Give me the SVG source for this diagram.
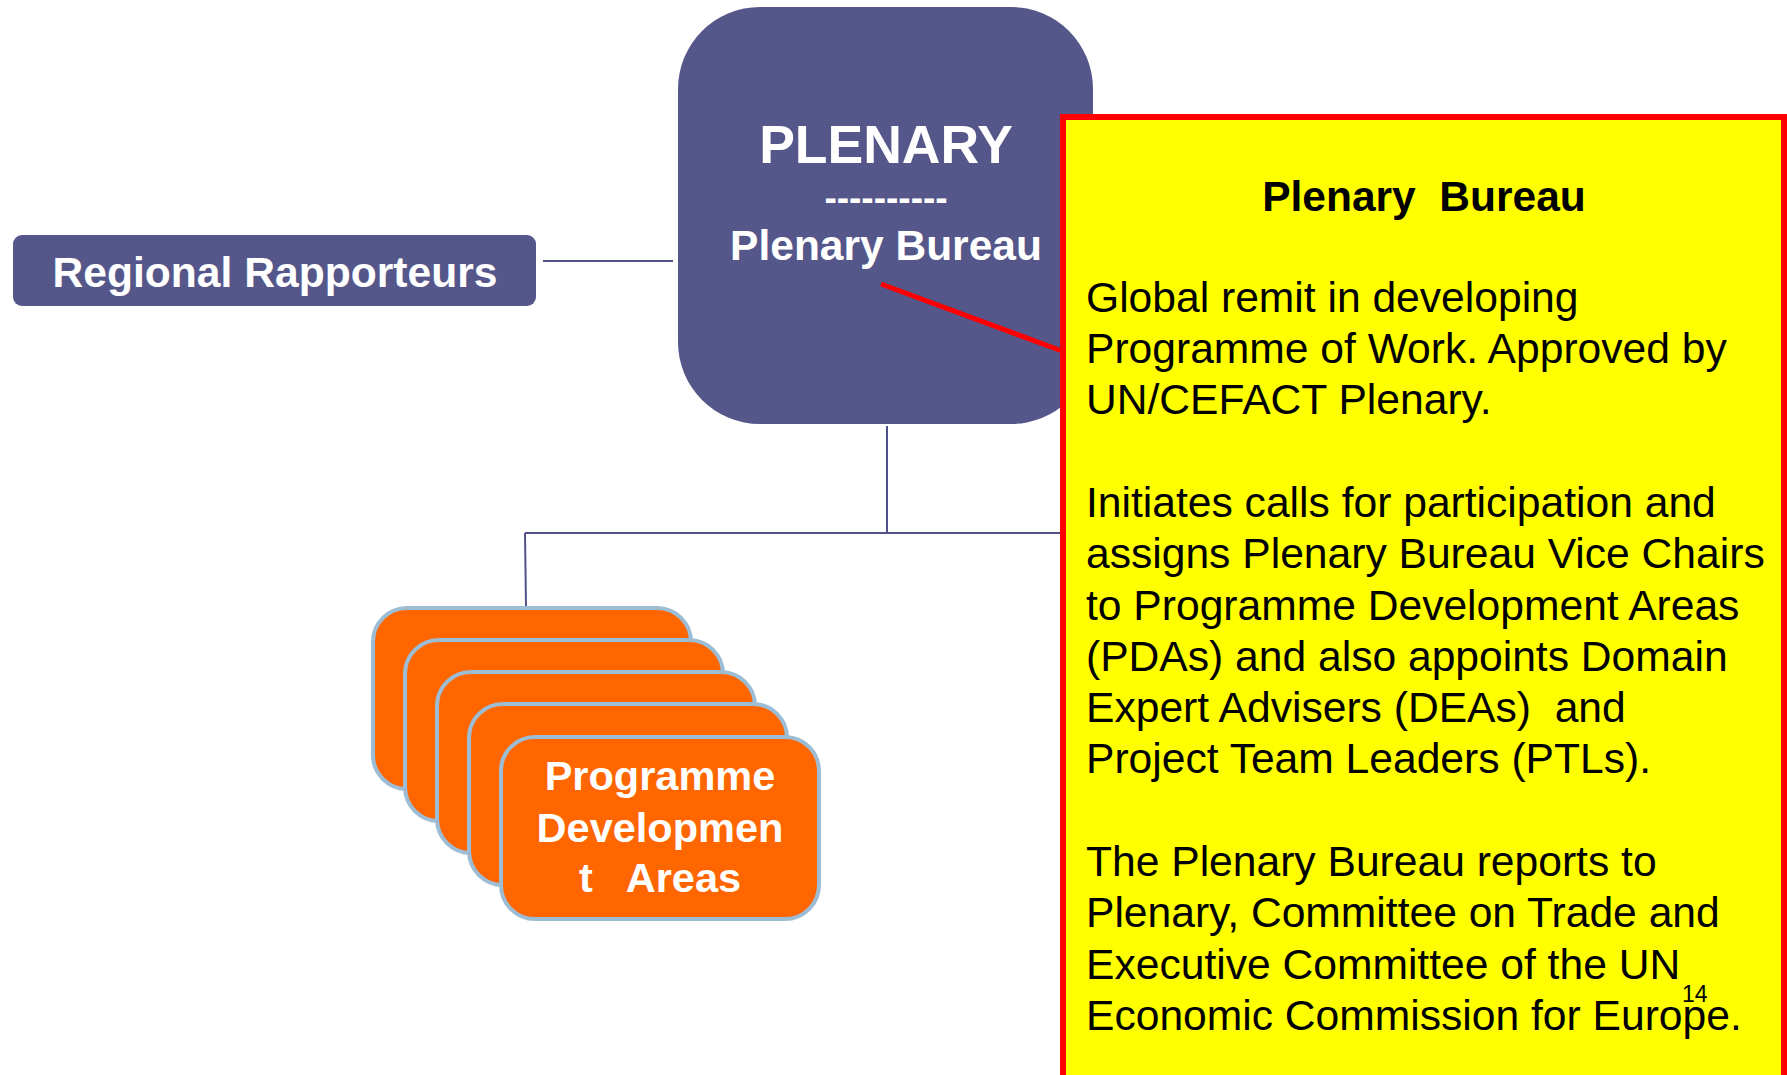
<svg xmlns="http://www.w3.org/2000/svg" width="1787" height="1075" viewBox="0 0 1787 1075">
<style>
.box{fill:#55578b}
.w{fill:#ffffff;font-family:"Liberation Sans",Arial,sans-serif;font-weight:bold}
.conn{stroke:#50508a;stroke-width:2;fill:none}
.card{fill:#ff6600;stroke:#9dbdd4;stroke-width:4}
.body{font-family:"Liberation Sans",Arial,sans-serif;font-size:42.6px;fill:#000000}
</style>
<rect width="1787" height="1075" fill="#ffffff"/>
<g id="connectors">
<line class="conn" x1="543" y1="261" x2="673" y2="261"/>
<line class="conn" x1="887" y1="426" x2="887" y2="533"/>
<line class="conn" x1="525" y1="533" x2="1065" y2="533"/>
<line class="conn" x1="525" y1="533" x2="526" y2="607"/>
</g>
<g id="regional-rapporteurs">
<rect class="box" x="13" y="235" width="523" height="71" rx="9"/>
<text class="w" x="275" y="287" font-size="42.6" text-anchor="middle">Regional Rapporteurs</text>
</g>
<g id="plenary">
<rect class="box" x="678" y="7" width="415" height="417" rx="82"/>
<text class="w" x="886" y="163" font-size="53.5" text-anchor="middle">PLENARY</text>
<text class="w" x="886" y="210" font-size="37" text-anchor="middle">----------</text>
<text class="w" x="886" y="260" font-size="42.5" text-anchor="middle">Plenary Bureau</text>
</g>
<g id="pdas">
<rect class="card" x="373" y="608" width="318" height="181" rx="34"/>
<rect class="card" x="405" y="640" width="318" height="181" rx="34"/>
<rect class="card" x="437" y="672" width="318" height="181" rx="34"/>
<rect class="card" x="469" y="704" width="318" height="181" rx="34"/>
<rect class="card" x="501" y="737" width="318" height="182" rx="34"/>
<text class="w" x="660" y="790" font-size="41.5" text-anchor="middle">Programme</text>
<text class="w" x="660" y="842" font-size="41.5" text-anchor="middle">Developmen</text>
<text class="w" x="660" y="892" font-size="41.5" text-anchor="middle" xml:space="preserve">t   Areas</text>
</g>
<g id="callout-line">
<line x1="881" y1="284" x2="1062" y2="351" stroke="#ff0000" stroke-width="5"/>
</g>
<g id="callout">
<rect x="1063" y="117" width="721" height="1000" fill="#ffff00" stroke="#ff0000" stroke-width="6"/>
<text x="1424" y="211" font-family="Liberation Sans, Arial, sans-serif" font-weight="bold" font-size="42.5" text-anchor="middle" xml:space="preserve">Plenary  Bureau</text>
<text class="body" x="1086">
<tspan x="1086" y="312">Global remit in developing</tspan>
<tspan x="1086" y="363">Programme of Work. Approved by</tspan>
<tspan x="1086" y="414">UN/CEFACT Plenary.</tspan>
<tspan x="1086" y="517">Initiates calls for participation and</tspan>
<tspan x="1086" y="568">assigns Plenary Bureau Vice Chairs</tspan>
<tspan x="1086" y="620">to Programme Development Areas</tspan>
<tspan x="1086" y="671">(PDAs) and also appoints Domain</tspan>
<tspan x="1086" y="722" xml:space="preserve">Expert Advisers (DEAs)  and</tspan>
<tspan x="1086" y="773">Project Team Leaders (PTLs).</tspan>
<tspan x="1086" y="876">The Plenary Bureau reports to</tspan>
<tspan x="1086" y="927">Plenary, Committee on Trade and</tspan>
<tspan x="1086" y="979">Executive Committee of the UN</tspan>
<tspan x="1086" y="1030">Economic Commission for Europe.</tspan>
</text>
<text x="1682" y="1002" font-family="Liberation Sans, Arial, sans-serif" font-size="23" fill="#000000">14</text>
</g>
</svg>
